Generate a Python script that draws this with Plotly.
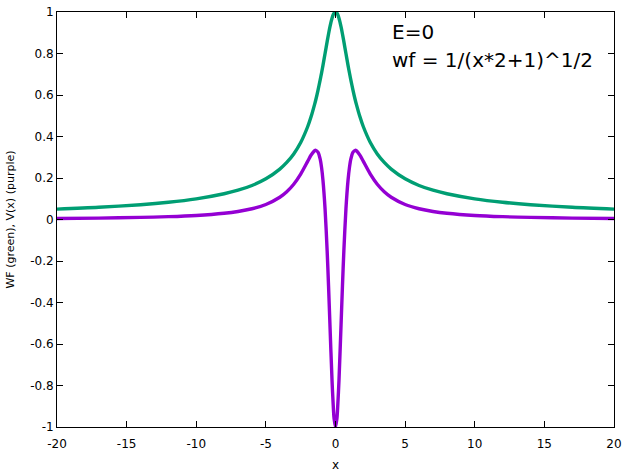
import plotly.graph_objects as go

# positive half of the x grid (curves are symmetric about x=0)
x_half = [0, 0.1, 0.15, 0.25, 0.4, 0.5, 0.6, 0.75, 0.9, 1.0, 1.1, 1.25, 1.414, 1.5,
          1.75, 2.0, 2.5, 3.0, 3.5, 4.0, 5.0, 6.0, 7.0, 8.0, 10.0, 12.0, 14.0, 17.0, 20.0]
# wave function values
wf_half = [1.0, 0.995, 0.989, 0.970, 0.928, 0.894, 0.857, 0.800, 0.743, 0.707, 0.673,
           0.625, 0.577, 0.555, 0.496, 0.447, 0.371, 0.316, 0.275, 0.243, 0.196, 0.164,
           0.141, 0.124, 0.0995, 0.083, 0.0712, 0.0587, 0.0499]
# potential values
v_half = [-1.0, -0.961, -0.913, -0.775, -0.505, -0.32, -0.151, 0.0512, 0.189, 0.25, 0.2907,
          0.3236, 0.3333, 0.3314, 0.3105, 0.28, 0.2188, 0.17, 0.1339, 0.1073, 0.0725, 0.0519,
          0.0388, 0.0301, 0.0195, 0.01365, 0.01007, 0.00686, 0.00497]

x_vals = [-v for v in reversed(x_half[1:])] + x_half
wf_vals = list(reversed(wf_half[1:])) + wf_half
v_vals = list(reversed(v_half[1:])) + v_half

x_ticks = [-20, -15, -10, -5, 0, 5, 10, 15, 20]
y_ticks = [-1, -0.8, -0.6, -0.4, -0.2, 0, 0.2, 0.4, 0.6, 0.8, 1]

fig = go.Figure()
fig.add_trace(go.Scatter(x=x_vals, y=wf_vals, mode="lines",
                         line=dict(color="#009e73", width=3.4, shape="spline", smoothing=0.8),
                         showlegend=False))
fig.add_trace(go.Scatter(x=x_vals, y=v_vals, mode="lines",
                         line=dict(color="#9400d3", width=3.4, shape="spline", smoothing=0.8),
                         showlegend=False))

axis_common = dict(showline=True, linecolor="black", linewidth=1, mirror="ticks",
                   ticks="inside", ticklen=6, tickcolor="black", tickwidth=1, showgrid=False,
                   zeroline=False,
                   tickfont=dict(family="DejaVu Sans", size=12, color="black"))

fig.update_xaxes(range=[-20, 20], tickvals=x_ticks, ticktext=[str(t) for t in x_ticks],
                 automargin="bottom", ticklabelstandoff=6,
                 **axis_common)
fig.update_yaxes(range=[-1, 1], tickvals=y_ticks, ticktext=[("%g" % t) for t in y_ticks],
                 automargin="left",
                 title=dict(text="WF (green), V(x) (purple)",
                            font=dict(family="DejaVu Sans", size=11, color="black"),
                            standoff=13),
                 **axis_common)

# x-axis title placed as text below the tick labels
fig.add_annotation(x=0.5, y=-0.0927, xref="paper", yref="paper", text="x", showarrow=False,
                   xanchor="center", yanchor="middle",
                   font=dict(family="DejaVu Sans", size=12, color="black"))

fig.add_annotation(x=3.9, y=0.906, xref="x", yref="y", text="E=0", showarrow=False,
                   xanchor="left", yanchor="middle",
                   font=dict(family="DejaVu Sans", size=20, color="black"))
fig.add_annotation(x=3.9, y=0.767, xref="x", yref="y", text="wf = 1/(x*2+1)^1/2",
                   showarrow=False, xanchor="left", yanchor="middle",
                   font=dict(family="DejaVu Sans", size=20, color="black"))

fig.update_layout(width=624, height=473, margin=dict(l=57, r=9.5, t=11.5, b=46),
                  paper_bgcolor="white", plot_bgcolor="white")

fig.write_html("out.html", config={"displayModeBar": False},
               post_script="document.body.style.margin='0';document.body.style.overflow='hidden';")
